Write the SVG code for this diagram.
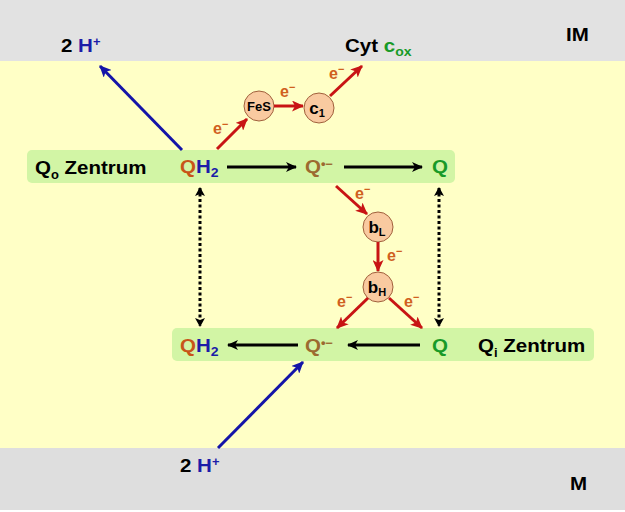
<svg xmlns="http://www.w3.org/2000/svg" width="625" height="512" viewBox="0 0 625 512">
<style>
text{font-family:"Liberation Sans",Arial,sans-serif;font-weight:bold;}
.lbl{font-size:19px;fill:#000;}
.e{font-size:16px;fill:#d0601e;}
.blue{fill:#1c1ca8;}
.grn{fill:#189a28;}
.qh{fill:#c85418;}
.qs{fill:#9c6a30;}
.cir{fill:#f9caa0;stroke:#a0603c;stroke-width:1;}
.ct{fill:#000;}
.blk{stroke:#000;stroke-width:3;fill:none;}
.red{stroke:#c81414;stroke-width:3;fill:none;}
.bl{stroke:#1414a8;stroke-width:3;fill:none;}
.dot{stroke:#000;stroke-width:3;fill:none;stroke-dasharray:3 2.5;}
</style>
<defs>
<marker id="ak" markerUnits="userSpaceOnUse" markerWidth="12" markerHeight="10" refX="10" refY="5" orient="auto"><path d="M0,0 L11,5 L0,10 L3,5 z" fill="#000"/></marker>
<marker id="ar" markerUnits="userSpaceOnUse" markerWidth="13" markerHeight="11" refX="11" refY="5.5" orient="auto"><path d="M0,0 L12,5.5 L0,11 L3,5.5 z" fill="#c81414"/></marker>
<marker id="ab" markerUnits="userSpaceOnUse" markerWidth="13" markerHeight="11" refX="11" refY="5.5" orient="auto"><path d="M0,0 L12,5.5 L0,11 L3,5.5 z" fill="#1414a8"/></marker>
<marker id="ad" markerUnits="userSpaceOnUse" markerWidth="10" markerHeight="10" refX="8" refY="5" orient="auto-start-reverse"><path d="M0,0 L9,5 L0,10 L2,5 z" fill="#000"/></marker>
</defs>

<g id="background">
<rect x="0" y="0" width="625" height="512" fill="#ffffff"/>
<rect x="0" y="0" width="625" height="61" fill="#e2e2e2"/>
<rect x="0" y="61" width="625" height="387" fill="#ffffc6"/>
<rect x="0" y="448" width="625" height="62" fill="#dedede"/>
</g>

<g id="Qo-center">
<rect x="27" y="150" width="428" height="33" rx="5" fill="#d2f5a5"/>
<text class="lbl" transform="translate(35,174) scale(1.08,1)">Q<tspan font-size="12" dy="5">o</tspan><tspan dy="-5"> Zentrum</tspan></text>
</g>
<g id="Qi-center">
<rect x="172" y="328" width="422" height="33" rx="5" fill="#d2f5a5"/>
<text class="lbl" transform="translate(478,352) scale(1.08,1)">Q<tspan font-size="12" dy="5">i</tspan><tspan dy="-5"> Zentrum</tspan></text>
</g>

<g id="IM"><text class="lbl" transform="translate(566,41) scale(1.08,1)">IM</text></g>
<g id="M"><text class="lbl" transform="translate(570,490) scale(1.08,1)">M</text></g>

<g id="H-top"><text class="lbl" transform="translate(61,52) scale(1.08,1)">2 <tspan class="blue">H<tspan font-size="12" dy="-6">+</tspan></tspan></text></g>
<g id="H-bottom"><text class="lbl" transform="translate(180,472) scale(1.08,1)">2 <tspan class="blue">H<tspan font-size="12" dy="-6">+</tspan></tspan></text></g>
<g id="Cyt"><text class="lbl" transform="translate(345,52) scale(1.08,1)">Cyt <tspan class="grn">c<tspan font-size="13" dy="4">ox</tspan></tspan></text></g>

<g id="QH2-top"><text class="lbl" transform="translate(180,173) scale(1.08,1)"><tspan class="qh">Q</tspan><tspan class="blue">H<tspan font-size="13" dy="4">2</tspan></tspan></text></g>
<g id="Qsemi-top"><text class="lbl qs" transform="translate(305,173) scale(1.08,1)">Q<tspan font-size="12" dy="-5">•−</tspan></text></g>
<g id="Q-top"><text class="lbl grn" transform="translate(432,173) scale(1.08,1)">Q</text></g>

<g id="QH2-bottom"><text class="lbl" transform="translate(180,352) scale(1.08,1)"><tspan class="qh">Q</tspan><tspan class="blue">H<tspan font-size="13" dy="4">2</tspan></tspan></text></g>
<g id="Qsemi-bottom"><text class="lbl qs" transform="translate(305,352) scale(1.08,1)">Q<tspan font-size="12" dy="-5">•−</tspan></text></g>
<g id="Q-bottom"><text class="lbl grn" transform="translate(432,352) scale(1.08,1)">Q</text></g>

<g id="FeS"><circle class="cir" cx="259" cy="106" r="15"/><text class="ct" x="259" y="111" text-anchor="middle" font-size="13">FeS</text></g>
<g id="c1"><circle class="cir" cx="319" cy="108" r="15"/><text class="ct" x="317" y="114" text-anchor="middle" font-size="17">c<tspan font-size="11" dy="3">1</tspan></text></g>
<g id="bL"><circle class="cir" cx="378" cy="227" r="15"/><text class="ct" x="377" y="233" text-anchor="middle" font-size="17">b<tspan font-size="11" dy="3">L</tspan></text></g>
<g id="bH"><circle class="cir" cx="378" cy="287" r="15"/><text class="ct" x="377" y="293" text-anchor="middle" font-size="17">b<tspan font-size="11" dy="3">H</tspan></text></g>

<g id="connectors">
<line class="blk" x1="227" y1="167" x2="296" y2="167" marker-end="url(#ak)"/>
<line class="blk" x1="344" y1="167" x2="422" y2="167" marker-end="url(#ak)"/>
<line class="blk" x1="298" y1="345" x2="228" y2="345" marker-end="url(#ak)"/>
<line class="blk" x1="420" y1="345" x2="348" y2="345" marker-end="url(#ak)"/>
<line class="dot" x1="200" y1="188" x2="200" y2="326" marker-start="url(#ad)" marker-end="url(#ad)"/>
<line class="dot" x1="439" y1="188" x2="439" y2="326" marker-start="url(#ad)" marker-end="url(#ad)"/>
<line class="bl" x1="182" y1="150" x2="100" y2="66" marker-end="url(#ab)"/>
<line class="bl" x1="218" y1="448" x2="303" y2="362" marker-end="url(#ab)"/>
<line class="red" x1="217" y1="149" x2="247" y2="119" marker-end="url(#ar)"/>
<line class="red" x1="274" y1="106" x2="303" y2="106" marker-end="url(#ar)"/>
<line class="red" x1="330" y1="96" x2="362" y2="66" marker-end="url(#ar)"/>
<line class="red" x1="336" y1="186" x2="367" y2="214" marker-end="url(#ar)"/>
<line class="red" x1="378" y1="242" x2="378" y2="271" marker-end="url(#ar)"/>
<line class="red" x1="368" y1="298" x2="337" y2="328" marker-end="url(#ar)"/>
<line class="red" x1="389" y1="298" x2="422" y2="328" marker-end="url(#ar)"/>
<text class="e" x="213" y="134">e<tspan font-size="11" dy="-6">−</tspan></text>
<text class="e" x="280" y="97">e<tspan font-size="11" dy="-6">−</tspan></text>
<text class="e" x="329" y="79">e<tspan font-size="11" dy="-6">−</tspan></text>
<text class="e" x="355" y="199">e<tspan font-size="11" dy="-6">−</tspan></text>
<text class="e" x="387" y="261">e<tspan font-size="11" dy="-6">−</tspan></text>
<text class="e" x="337" y="307">e<tspan font-size="11" dy="-6">−</tspan></text>
<text class="e" x="404" y="307">e<tspan font-size="11" dy="-6">−</tspan></text>
</g>
</svg>
